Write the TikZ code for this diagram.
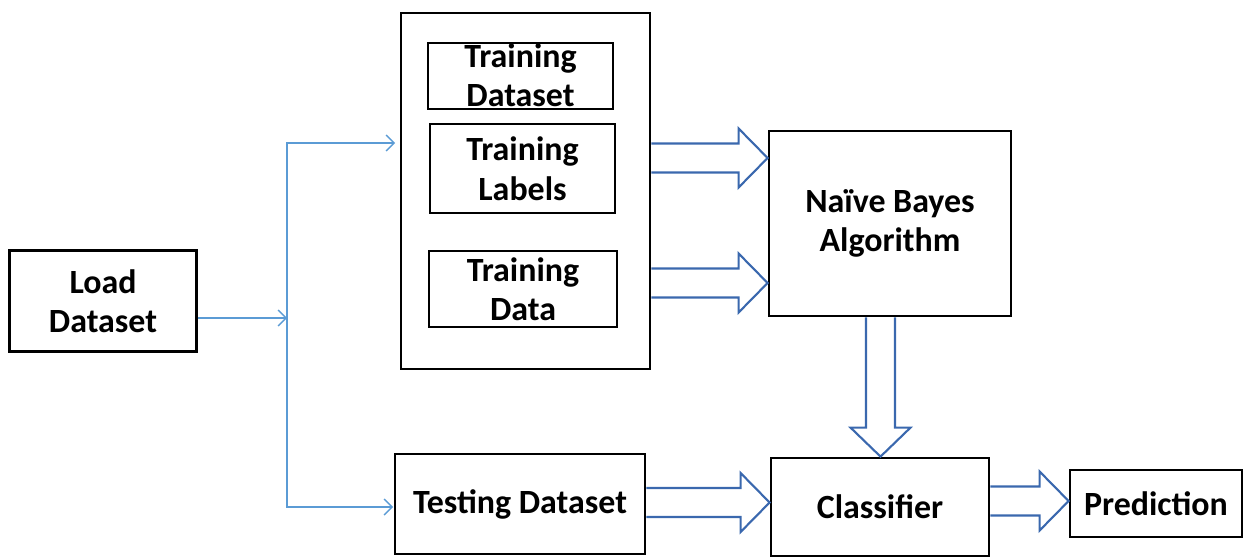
\documentclass[tikz,border=0pt]{standalone}
\usepackage{fontspec}
\setmainfont{Carlito}
\usepackage{xcolor}
\usepackage{tikz}
\usetikzlibrary{arrows.meta, positioning, calc}
\definecolor{flowBlue}{HTML}{5B9BD5}
\definecolor{blockBlue}{HTML}{3A68AE}
\tikzset{
  stagebox/.style={
    draw, line width=1.6pt, align=center, inner sep=0pt,
    font=\fontsize{19.3}{22.5}\selectfont\bfseries
  },
  boxtext/.style={align=center, inner sep=0pt,
    font=\fontsize{19.3}{22.5}\selectfont\bfseries},
  thinarr/.style={-{Straight Barb[length=1.6mm, width=3.2mm]}, flowBlue, line width=0.8pt},
  blockarr/.style={blockBlue, line width=1.2pt, line join=miter}
}
% hollow block arrows, #1 = start, #2 = tip
\newcommand{\harrow}[2]{%
  \draw[blockarr] ($(#1)+(0,0.29)$) -- ($(#2)+(-0.58,0.29)$) -- ($(#2)+(-0.58,0.59)$)
    -- (#2) -- ($(#2)+(-0.58,-0.59)$) -- ($(#2)+(-0.58,-0.29)$) -- ($(#1)+(0,-0.29)$);}
\newcommand{\varrow}[2]{%
  \draw[blockarr] ($(#1)+(-0.29,0)$) -- ($(#2)+(-0.29,0.58)$) -- ($(#2)+(-0.60,0.58)$)
    -- (#2) -- ($(#2)+(0.60,0.58)$) -- ($(#2)+(0.29,0.58)$) -- ($(#1)+(0.29,0)$);}

\begin{document}
\begin{tikzpicture}
\useasboundingbox (0,0) rectangle (24.92,-11.18);

% Loading
\node[stagebox, minimum width=3.74cm, minimum height=2.02cm] (load) at (2.06,-6.02) {Load\\Dataset};

% Training block
\node[stagebox, minimum width=4.98cm, minimum height=7.12cm] (outer) at (10.51,-3.82) {};
\node[stagebox, minimum width=3.70cm, minimum height=1.32cm] (tdataset) at (10.41,-1.52) {};
\node[boxtext] (tdatasettext) at (10.41,-1.50) {Training\\Dataset};
\node[stagebox, minimum width=3.70cm, minimum height=1.78cm] (tlabels) at (10.45,-3.37) {Training\\Labels};
\node[stagebox, minimum width=3.76cm, minimum height=1.52cm] (tdata) at (10.46,-5.78) {Training\\Data};

% Model
\node[stagebox, minimum width=4.84cm, minimum height=3.70cm] (nb) at (17.80,-4.47) {Naïve Bayes\\Algorithm};

% Testing and output
\node[stagebox, minimum width=5.00cm, minimum height=2.00cm] (testing) at (10.40,-10.08) {Testing Dataset};
\node[stagebox, minimum width=4.36cm, minimum height=1.96cm] (classifier) at (17.60,-10.14) {Classifier};
\node[stagebox, minimum width=3.44cm, minimum height=1.34cm] (prediction) at (23.12,-10.07) {Prediction};

% Split of the dataset
\coordinate (split) at (5.74,-6.36);
\coordinate (totrain) at (7.90,-2.86);
\coordinate (totest) at (7.86,-10.14);
\draw[thinarr] (load.east |- split) -- (split);
\draw[thinarr] (split) |- (totrain);
\draw[thinarr] (split) |- (totest);

% Block arrows
\coordinate (labout) at (outer.east |- 0,-3.16);
\coordinate (labin) at (nb.west |- 0,-3.16);
\coordinate (datout) at (outer.east |- 0,-5.66);
\coordinate (datin) at (nb.west |- 0,-5.66);
\coordinate (nbout) at (nb.south -| 17.61,0);
\coordinate (clin) at (classifier.north -| 17.61,0);
\coordinate (testout) at (testing.east |- 0,-10.05);
\coordinate (testin) at (classifier.west |- 0,-10.05);
\coordinate (clout) at (classifier.east |- 0,-10.02);
\coordinate (predin) at (prediction.west |- 0,-10.02);
\harrow{labout}{labin}
\harrow{datout}{datin}
\varrow{nbout}{clin}
\harrow{testout}{testin}
\harrow{clout}{predin}

\end{tikzpicture}
\end{document}
